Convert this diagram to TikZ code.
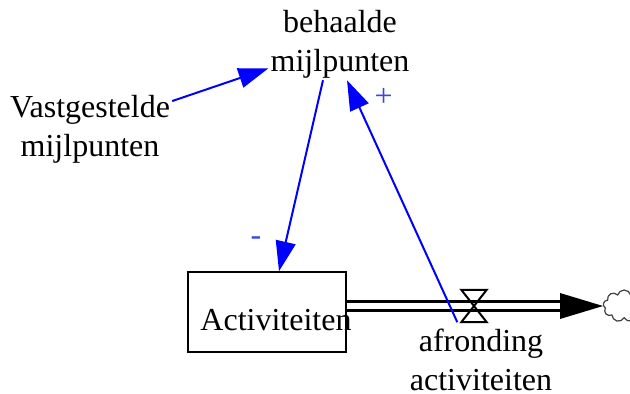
\documentclass[tikz,border=0pt]{standalone}
\usepackage{fontspec}
\setmainfont{Liberation Serif}
\usetikzlibrary{arrows.meta,shapes.symbols}
\definecolor{LinkBlue}{RGB}{0,0,255}
\definecolor{SignBlue}{RGB}{60,60,255}

\begin{document}
\begin{tikzpicture}[x=1pt, y=-1pt,
  varname/.style={align=center, inner sep=2pt, font=\fontsize{32}{39}\selectfont},
  stock/.style={draw, line width=1.5pt, minimum width=158pt, minimum height=80pt},
  link/.style={draw=LinkBlue, line width=2pt, -{Triangle[length=30pt,width=20pt]}},
  sign/.style={text=SignBlue, inner sep=0pt, font=\fontsize{32}{36}\selectfont},
  pipe/.style={double=white, double distance=6pt, line width=2.8pt}]
\useasboundingbox (0,0) rectangle (630,394);

% variables and stock
\node[varname] (beh) at (340,44) {behaalde\\mijlpunten};
\node[varname] (vast) at (90,129) {Vastgestelde\\mijlpunten};
\node[stock] (act) at (267,312) {};
\node[varname] (afr) at (481,360) {afronding\\activiteiten};

% flow: pipe, valve, arrow head and cloud
\node[minimum width=25pt, minimum height=32pt, inner sep=0pt] (valve) at (474,306) {};
\coordinate (cloud) at (603,306);
\draw[pipe] (act.east |- valve) -- ([xshift=-42]cloud);
\draw[line width=2pt] (valve.north west) -- (valve.north east) -- (valve.south west) -- (valve.south east) -- cycle;
\fill ([shift={(-43,-13)}]cloud) -- (cloud) -- ([shift={(-43,13)}]cloud) -- cycle;
\node[cloud, cloud puffs=9, draw=black!75, line width=1.2pt, minimum width=42pt, minimum height=32pt, anchor=west] (sink) at (cloud) {};

\node[varname, anchor=base] (acttxt) at (276,330) {Activiteiten};

% causal links
\draw[link] (vast) -- (beh);
\draw[link] ([xshift=-17]beh.south) -- node[sign, pos=0.84, xshift=-30] {-} ([xshift=12]act.north);
\draw[link] ([xshift=-4]valve.south west) -- node[sign, pos=0.93, xshift=29] {+} ([xshift=7]beh.south);

\end{tikzpicture}
\end{document}
